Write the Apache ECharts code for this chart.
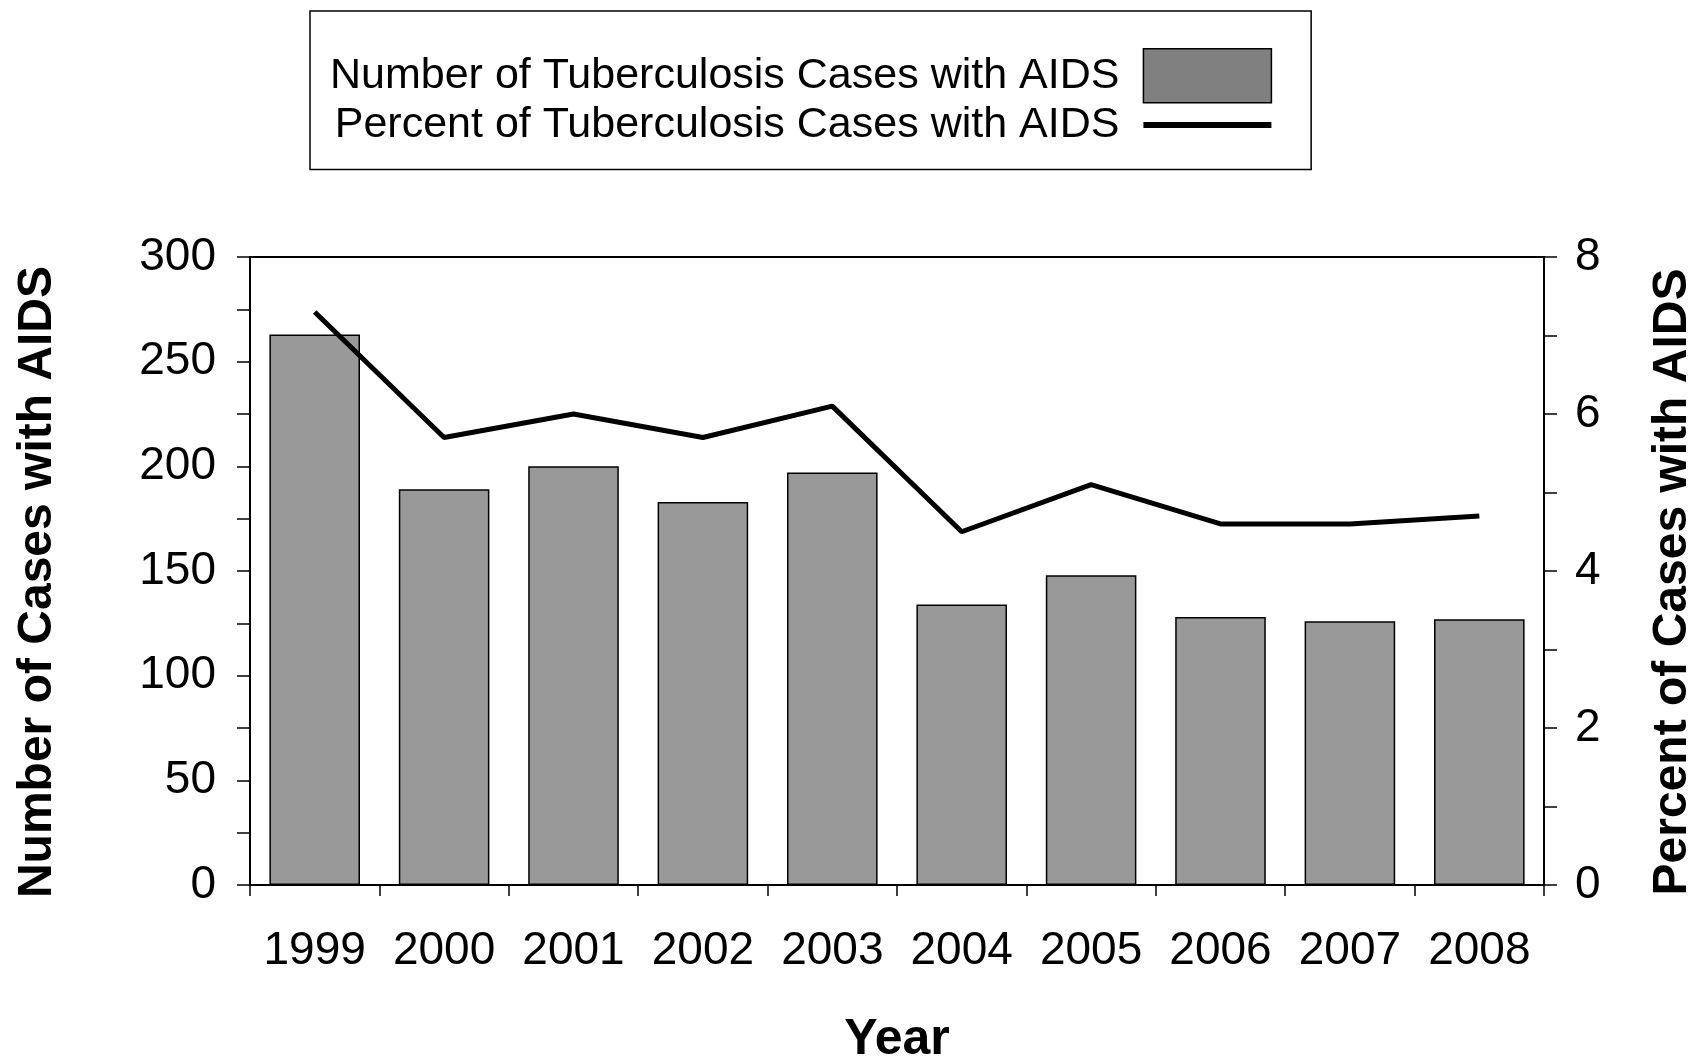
<!DOCTYPE html>
<html>
<head>
<meta charset="utf-8">
<script src="https://cdn.jsdelivr.net/npm/echarts@6/dist/echarts.min.js"></script>
<style>
  html, body { margin: 0; padding: 0; background: #fff; }
  #chart { width: 1698px; height: 1056px; }
</style>
</head>
<body>
<div id="chart"></div>
<script>
var years = ["1999", "2000", "2001", "2002", "2003", "2004", "2005", "2006", "2007", "2008"];
var caseCounts = [263, 189, 200, 183, 197, 134, 148, 128, 126, 127];
var casePercents = [7.3, 5.7, 6.0, 5.7, 6.1, 4.5, 5.1, 4.6, 4.6, 4.7];

var barName = "Number of Tuberculosis Cases with AIDS";
var lineName = "Percent of Tuberculosis Cases with AIDS";
var font = "Liberation Sans, Arial, sans-serif";

var chart = echarts.init(document.getElementById("chart"));
chart.setOption({
  backgroundColor: "#fff",
  animation: false,
  textStyle: { fontFamily: font, color: "#000" },
  legend: {
    orient: "vertical",
    left: 310,
    top: 11,
    align: "right",
    padding: [37, 39, 23, 20],
    itemGap: 0,
    itemWidth: 128,
    itemHeight: 54,
    borderColor: "#000",
    borderWidth: 1.5,
    textStyle: { fontSize: 43, fontFamily: font, color: "#000", padding: [0, 19, 0, 0] },
    data: [
      { name: barName, icon: "rect", itemStyle: { color: "#808080", borderColor: "#000", borderWidth: 1.5 } },
      { name: lineName, icon: "path://M0,0 L128,0 L128,6 L0,6 Z", itemStyle: { color: "#000" } }
    ]
  },
  grid: {
    left: 250,
    right: 154,
    top: 257,
    bottom: 171,
    show: true,
    borderColor: "#000",
    borderWidth: 2,
    outerBoundsMode: "none"
  },
  xAxis: {
    type: "category",
    data: years,
    name: "Year",
    nameLocation: "middle",
    nameGap: 130,
    nameMoveOverlap: false,
    nameTextStyle: { fontSize: 50, fontWeight: "bold", fontFamily: font, color: "#000" },
    axisLine: { lineStyle: { color: "#000", width: 2 } },
    axisTick: { show: true, interval: 0, length: 11, lineStyle: { color: "#000", width: 1.5 } },
    axisLabel: { interval: 0, fontSize: 46, fontFamily: font, color: "#000", margin: 43 }
  },
  yAxis: [
    {
      type: "value",
      min: 0,
      max: 300,
      interval: 25,
      name: "Number of Cases with AIDS",
      nameLocation: "middle",
      nameRotate: 90,
      nameGap: 188,
      nameMoveOverlap: false,
      nameTextStyle: { fontSize: 48, fontWeight: "bold", fontFamily: font, color: "#000", padding: [0, 22, 0, 0] },
      splitLine: { show: false },
      axisLine: { show: true, lineStyle: { color: "#000", width: 2 } },
      axisTick: { show: true, length: 13, lineStyle: { color: "#000", width: 1.5 } },
      axisLabel: {
        fontSize: 46, fontFamily: font, color: "#000", margin: 34,
        formatter: function (v) { return v % 50 === 0 ? String(v) : ""; }
      }
    },
    {
      type: "value",
      position: "right",
      min: 0,
      max: 8,
      interval: 1,
      name: "Percent of Cases with AIDS",
      nameLocation: "middle",
      nameRotate: 90,
      nameGap: 105,
      nameMoveOverlap: false,
      nameTextStyle: { fontSize: 48, fontWeight: "bold", fontFamily: font, color: "#000", padding: [0, 22, 0, 0] },
      splitLine: { show: false },
      axisLine: { show: true, lineStyle: { color: "#000", width: 2 } },
      axisTick: { show: true, length: 13, lineStyle: { color: "#000", width: 1.5 } },
      axisLabel: {
        fontSize: 46, fontFamily: font, color: "#000", margin: 31,
        formatter: function (v) { return v % 2 === 0 ? String(v) : ""; }
      }
    }
  ],
  series: [
    {
      name: barName,
      type: "bar",
      yAxisIndex: 0,
      barCategoryGap: "30%",
      itemStyle: { color: "#999999", borderColor: "#000", borderWidth: 1.5 },
      data: caseCounts
    },
    {
      name: lineName,
      type: "line",
      yAxisIndex: 1,
      symbol: "none",
      lineStyle: { color: "#000", width: 5 },
      itemStyle: { color: "#000" },
      data: casePercents
    }
  ]
});
</script>
</body>
</html>
